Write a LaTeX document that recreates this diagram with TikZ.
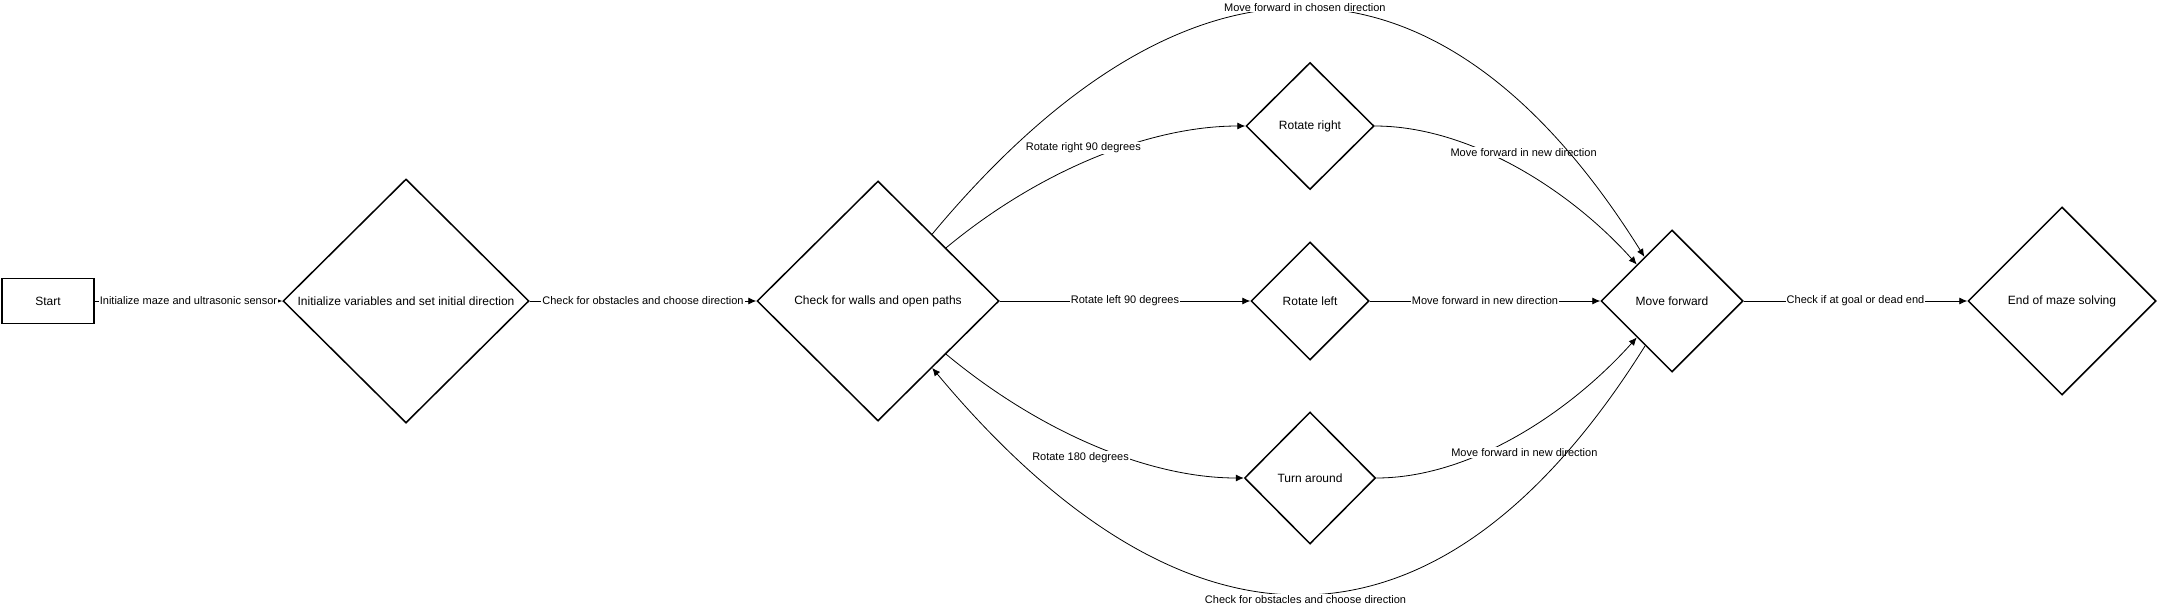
\documentclass[tikz,border=0pt]{standalone}
\usepackage{fontspec}
\setmainfont{Liberation Sans}
\usepackage{tikz}
\usetikzlibrary{shapes.geometric, positioning, arrows.meta}
\tikzstyle{arrow} = [line width=0.8pt,->]
\tikzstyle{block} = [draw, fill=white, rectangle, line width=1.5pt,
    minimum height=45pt, minimum width=92pt, font=\fontsize{12}{14}\selectfont]
\tikzstyle{decision} = [draw, fill=white, diamond, aspect=1, line width=1.5pt,
    inner sep=0pt, font=\fontsize{12}{14}\selectfont]
\tikzstyle{lbl} = [fill=white, inner sep=1pt, font=\fontsize{11}{13}\selectfont]

\begin{document}
\begin{tikzpicture}[x=1pt, y=-1pt, >={Latex[length=8pt,width=7pt]}]
    \useasboundingbox (0,0) rectangle (2158,606);
    \node [block] (start) at (48,301) {Start};
    \node [decision, minimum width=246pt, minimum height=244pt, node distance=358pt, right of=start] (init) {Initialize variables and set initial direction};
    \node [decision, minimum width=242pt, minimum height=240pt, node distance=472pt, right of=init] (check) {Check for walls and open paths};
    \node [decision, minimum width=118pt, minimum height=118pt, node distance=432pt, right of=check] (rleft) {Rotate left};
    \node [decision, minimum width=128pt, minimum height=127pt, node distance=175pt, above of=rleft] (rright) {Rotate right};
    \node [decision, minimum width=131pt, minimum height=132pt, node distance=177pt, below of=rleft] (tarnd) {Turn around};
    \node [decision, minimum width=142pt, minimum height=142pt, node distance=362pt, right of=rleft] (mf) {Move forward};
    \node [decision, minimum width=188pt, minimum height=188pt, node distance=390pt, right of=mf] (end) {End of maze solving};
    % straight connectors
    \draw [arrow] (start) -- node[lbl] {Initialize maze and ultrasonic sensor} (init);
    \draw [arrow] (init) -- node[lbl] {Check for obstacles and choose direction} (check);
    \draw [arrow] (check) -- node[lbl] {Rotate left 90 degrees} (rleft);
    \draw [arrow] (rleft) -- node[lbl] {Move forward in new direction} (mf);
    \draw [arrow] (mf) -- node[lbl] {Check if at goal or dead end} (end);
    % curved connectors
    \draw [arrow] (check.38) .. controls +(94,-78) and +(-95,0) .. node[lbl, xshift=-12pt, yshift=10pt] {Rotate right 90 degrees} (rright.west);
    \draw [arrow] (rright.east) .. controls +(95,0) and +(-66,-74) .. node[lbl, xshift=7pt, yshift=15pt] {Move forward in new direction} (mf.134);
    \draw [arrow] (check.-38) .. controls +(94,78) and +(-95,0) .. node[lbl, xshift=-14pt, yshift=-12pt] {Rotate 180 degrees} (tarnd.west);
    \draw [arrow] (tarnd.east) .. controls +(95,0) and +(-66,74) .. node[lbl, xshift=7pt, yshift=-17pt] {Move forward in new direction} (mf.-134);
    \draw [arrow] (check.51) .. controls +(251,-301) and +(-207,-331) .. node[lbl, yshift=1pt] {Move forward in chosen direction} (mf.122);
    \draw [arrow] (mf.-121) .. controls +(-207,331) and +(252,302) .. node[lbl, yshift=-5pt] {Check for obstacles and choose direction} (check.-51);
\end{tikzpicture}
\end{document}
